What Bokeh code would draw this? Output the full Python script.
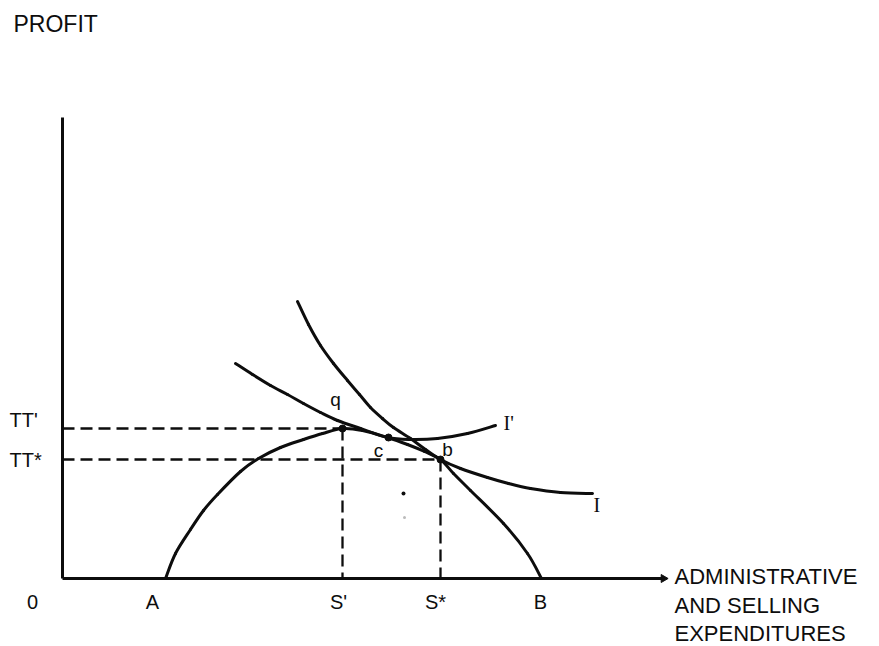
import math
from bokeh.plotting import figure
from bokeh.models import Range1d
from bokeh.core.properties import value
from bokeh.embed import file_html
from bokeh.resources import INLINE

# ---------------- data (x = administrative & selling expenditures, y = profit) -------------
profit_x = [103, 113, 128, 141, 155, 178, 196, 218, 241, 260, 280, 300, 325, 345, 362, 378, 391, 408, 441, 465, 479]
profit_y = [0, 25, 49, 68, 84, 107, 120, 131, 139, 145, 150, 148, 141, 134, 127, 119, 105, 88, 55, 25, 0]

iso_I_x = [235, 246, 258, 271, 285, 297, 308, 320, 331, 348, 363, 378, 398, 425, 446, 468, 498, 530]
iso_I_y = [277, 254, 233, 215, 198, 184, 171, 160, 151, 140, 129, 119, 110, 101, 95, 90, 86, 85]

iso_Ip_x = [173, 190, 208, 225, 241, 258, 275, 298, 325, 348, 375, 405, 433]
iso_Ip_y = [215, 204, 193, 184, 175, 166, 158, 150, 141, 139, 140, 145, 153]

x_tick_labels = ["0", "A", "S'", "S*", "B"]
x_tick_values = [0, 103, 280, 378, 479]

y_tick_labels = ["TT'", "TT*"]
y_tick_values = [150, 119]

S_prime, S_star = 280, 378
TT_prime, TT_star = 150, 119

point_labels = ["q", "c", "b"]
point_x = [280, 326, 378]
point_y = [150, 141, 119]

x_axis_max = 600
y_axis_max = 461

FONT = value("Liberation Sans")
SERIF = value("Liberation Serif")
INK = "#0d0d0d"
TS = 9  # text baseline correction

p = figure(width=879, height=646,
           x_range=Range1d(-62, 817), y_range=Range1d(-68, 578),
           x_axis_type=None, y_axis_type=None,
           output_backend="svg", toolbar_location=None, min_border=0)
p.grid.visible = False
p.outline_line_color = None
p.background_fill_color = "white"
p.border_fill_color = "white"


def smooth(xs, ys):
    """Catmull-Rom curve through the read points, drawn as cubic Bezier pieces."""
    n = len(xs)
    x0, y0, x1, y1, cx0, cy0, cx1, cy1 = [], [], [], [], [], [], [], []
    for i in range(n - 1):
        a = max(i - 1, 0)
        d = min(i + 2, n - 1)
        x0.append(xs[i]); y0.append(ys[i])
        x1.append(xs[i + 1]); y1.append(ys[i + 1])
        cx0.append(xs[i] + (xs[i + 1] - xs[a]) / 6.0)
        cy0.append(ys[i] + (ys[i + 1] - ys[a]) / 6.0)
        cx1.append(xs[i + 1] - (xs[d] - xs[i]) / 6.0)
        cy1.append(ys[i + 1] - (ys[d] - ys[i]) / 6.0)
    p.bezier(x0=x0, y0=y0, x1=x1, y1=y1, cx0=cx0, cy0=cy0, cx1=cx1, cy1=cy1,
             line_color=INK, line_width=3, line_cap="round")


def label(xs, ys, texts, size, align="left", font=FONT):
    p.text(x=xs, y=[y + TS for y in ys], text=texts, text_font=font,
           text_font_size=size, text_align=align, text_baseline="alphabetic",
           text_color=INK)


# axes
p.line([0, 0], [0, y_axis_max], line_color=INK, line_width=3)
p.line([0, x_axis_max], [0, 0], line_color=INK, line_width=3)
p.scatter([x_axis_max + 1], [0], marker="triangle", angle=-math.pi / 2, size=8,
          fill_color=INK, line_color=INK)

# dashed guide lines
dash = "12 6"
p.line([0, S_prime], [TT_prime, TT_prime], line_color=INK, line_width=2.3, line_dash=dash)
p.line([0, S_star], [TT_star, TT_star], line_color=INK, line_width=2.3, line_dash=dash)
p.line([S_prime, S_prime], [TT_prime, 0], line_color=INK, line_width=2.3, line_dash=dash)
p.line([S_star, S_star], [TT_star, 0], line_color=INK, line_width=2.3, line_dash=dash)

# curves
smooth(profit_x, profit_y)
smooth(iso_I_x, iso_I_y)
smooth(iso_Ip_x, iso_Ip_y)

# marked points
p.scatter(point_x, point_y, size=7, fill_color=INK, line_color=INK)
# stray specks in the original
p.scatter([341], [85], size=4, fill_color=INK, line_color=None)
p.scatter([342], [61], size=3, fill_color="#bbbbbb", line_color=None)

# point labels
label([point_x[0] - 7, point_x[1] - 10, point_x[2] + 7],
      [point_y[0] + 20, point_y[1] - 22, point_y[2] + 1], point_labels, "19px", "center")

# curve labels
label([iso_Ip_x[-1] + 8, iso_I_x[-1] + 1], [iso_Ip_y[-1] - 6, iso_I_y[-1] - 20],
      ["I'", "I"], "20px", "left", SERIF)

# x tick labels
label([-30, 90, 276, 373, 478], [-32] * len(x_tick_labels), x_tick_labels, "20px", "center")

# y tick labels
label([-53, -53], [y_tick_values[0], y_tick_values[1] - 9], y_tick_labels, "20px")

# axis titles
label([-49], [546], ["PROFIT"], "23px")
label([612, 612, 612], [-7, -36, -64],
      ["ADMINISTRATIVE", "AND SELLING", "EXPENDITURES"], "22px")

open("out.html", "w").write(file_html(p, INLINE))
